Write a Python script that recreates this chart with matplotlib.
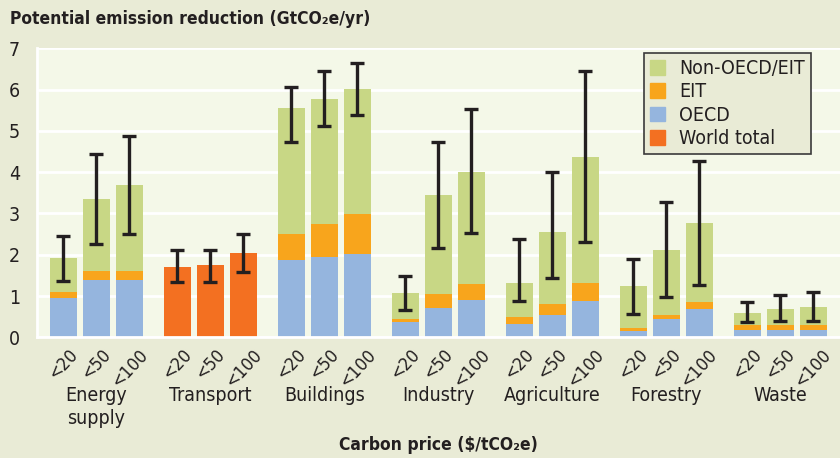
import matplotlib
matplotlib.use("Agg")
import matplotlib.pyplot as plt
import numpy as np
from matplotlib.patches import Patch
from matplotlib.transforms import blended_transform_factory

# values (GtCO2e/yr)
sectors = ["Energy\nsupply", "Transport", "Buildings", "Industry",
           "Agriculture", "Forestry", "Waste"]
prices = ["<20", "<50", "<100"]
series = ["Non-OECD/EIT", "EIT", "OECD", "World total"]

oecd = [0.96, 1.39, 1.39, 0, 0, 0, 1.88, 1.94, 2.02, 0.37, 0.72, 0.91,
        0.33, 0.53, 0.88, 0.15, 0.44, 0.69, 0.18, 0.18, 0.18]
eit = [0.14, 0.22, 0.22, 0, 0, 0, 0.62, 0.80, 0.97, 0.07, 0.33, 0.38,
       0.16, 0.28, 0.43, 0.08, 0.10, 0.16, 0.12, 0.12, 0.12]
non_oecd = [0.82, 1.74, 2.08, 0, 0, 0, 3.05, 3.03, 3.02, 0.63, 2.40, 2.71,
            0.82, 1.74, 3.06, 1.01, 1.57, 1.92, 0.29, 0.38, 0.43]
world = [0, 0, 0, 1.70, 1.75, 2.04, 0, 0, 0, 0, 0, 0,
         0, 0, 0, 0, 0, 0, 0, 0, 0]
err_low = [1.36, 2.25, 2.49, 1.33, 1.35, 1.57, 4.74, 5.12, 5.38, 0.66, 2.17, 2.53,
           0.87, 1.43, 2.31, 0.56, 0.98, 1.27, 0.37, 0.39, 0.39]
err_high = [2.46, 4.44, 4.87, 2.11, 2.11, 2.50, 6.07, 6.44, 6.65, 1.49, 4.74, 5.52,
            2.39, 4.01, 6.46, 1.90, 3.28, 4.27, 0.86, 1.03, 1.09]

c_non = "#c8d785"
c_eit = "#f8a51c"
c_oecd = "#95b5de"
c_world = "#f37021"
bg_out = "#e9ebd6"
bg_in = "#f4f8e8"
ink = "#231f20"

# the original uses a condensed sans
plt.rcParams["font.family"] = ["DejaVu Sans"]
plt.rcParams["font.stretch"] = "condensed"

stride = 114 / 33
x = np.array([g * stride + j for g in range(len(sectors)) for j in range(len(prices))])
oecd = np.array(oecd)
eit = np.array(eit)
non_oecd = np.array(non_oecd)
world = np.array(world)
total = oecd + eit + non_oecd + world

fig = plt.figure(figsize=(8.4, 4.58), dpi=100, facecolor=bg_out)
ax = fig.add_axes([36.7 / 840, (458 - 337.3) / 458, 1 - 36.7 / 840, 289 / 458])
ax.set_facecolor(bg_in)

w = 27 / 33
ax.bar(x, oecd, w, color=c_oecd, zorder=2)
ax.bar(x, eit, w, bottom=oecd, color=c_eit, zorder=2)
ax.bar(x, non_oecd, w, bottom=oecd + eit, color=c_non, zorder=2)
ax.bar(x, world, w, color=c_world, zorder=2)

lo = total - np.array(err_low)
hi = np.array(err_high) - total
ax.errorbar(x, total, yerr=[lo, hi], fmt="none", ecolor=ink, elinewidth=2.4,
            capsize=5, capthick=2.4, zorder=3)

ax.set_xlim(-0.812, x[-1] + 0.81)
ax.set_ylim(0, 7)
ax.set_yticks(range(8))
ax.grid(axis="y", color="white", linewidth=2, zorder=1)
ax.set_axisbelow(True)
for s in ["top", "right"]:
    ax.spines[s].set_visible(False)
for s in ["left", "bottom"]:
    ax.spines[s].set_color("white")
    ax.spines[s].set_linewidth(2)
ax.tick_params(axis="y", length=0, pad=12, labelsize=14, labelcolor=ink)
ax.tick_params(axis="x", length=0, pad=6, labelsize=13, labelcolor=ink)
ax.set_xticks(x)
ax.set_xticklabels(prices * len(sectors), rotation=47, ha="center", va="top")

trans = blended_transform_factory(ax.transData, fig.transFigure)
for g, name in enumerate(sectors):
    ax.text(g * stride + 1, 1 - 386 / 458, name, transform=trans, ha="center",
            va="top", fontsize=14, color=ink, linespacing=1.3)

fig.text(10 / 840, 1 - 19 / 458, "Potential emission reduction (GtCO₂e/yr)",
         ha="left", va="center", fontsize=12.5, fontweight="bold", color=ink)
fig.text(438 / 840, 1 - 445 / 458, "Carbon price ($/tCO₂e)",
         ha="center", va="center", fontsize=12.5, fontweight="bold", color=ink)

handles = [Patch(color=c) for c in [c_non, c_eit, c_oecd, c_world]]
leg = ax.legend(handles, series, loc="upper right", bbox_to_anchor=(0.9635, 0.9827),
                borderaxespad=0, fontsize=14, handlelength=0.78, handleheight=0.78,
                handletextpad=0.72, labelspacing=0.22, borderpad=0.3,
                fancybox=False, framealpha=1)
leg.get_frame().set_facecolor(bg_out)
leg.get_frame().set_edgecolor("#3a3a3a")
leg.get_frame().set_linewidth(1.2)
for t in leg.get_texts():
    t.set_color(ink)

fig.savefig("out.png", dpi=100, facecolor=bg_out)
